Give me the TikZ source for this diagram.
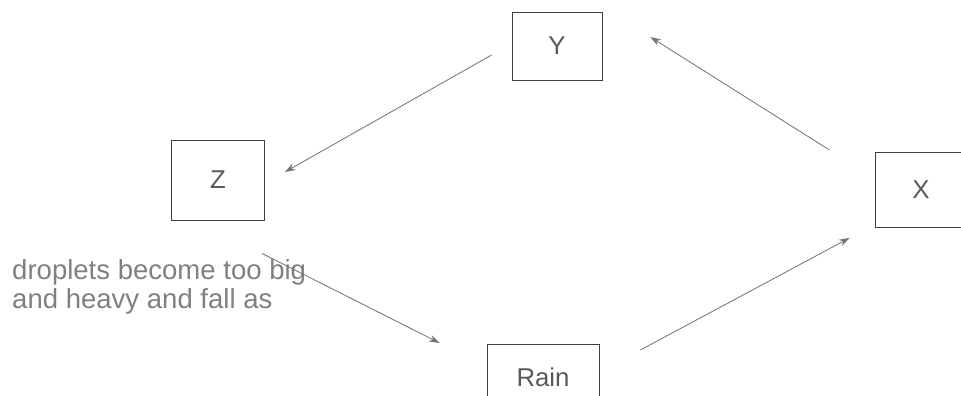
\documentclass[tikz,border=0pt]{standalone}
\usepackage{fontspec}
\setmainfont{Liberation Sans}
\usetikzlibrary{calc,arrows.meta}

\tikzset{
  cyclebox/.style={draw=black!75, line width=0.7pt, text=black!65,
    inner sep=0pt, font=\fontsize{22}{26}\selectfont},
  cyclearrow/.style={draw=black!55, line width=0.7pt,
    -{Stealth[length=9pt,width=6pt]}},
}

\begin{document}
\begin{tikzpicture}[x=0.03cm, y=-0.03cm]
  \useasboundingbox (0,0) rectangle (961,396);

  %--- Boxes of the cycle ---
  \node[cyclebox, minimum width=90*0.03cm, minimum height=68*0.03cm] (Y) at (557,46) {Y};
  \node[cyclebox, minimum width=93*0.03cm, minimum height=80*0.03cm] (Z) at (218,180) {Z};
  \node[cyclebox, minimum width=92*0.03cm, minimum height=75*0.03cm] (X) at (921,190) {X};
  \node[cyclebox, minimum width=112*0.03cm, minimum height=66*0.03cm] (rain) at (543,377) {Rain};

  %--- Label beside the Z to Rain arrow ---
  \node[anchor=north west, align=left, inner sep=0pt, text=black!50,
    font=\fontsize{23.5}{25}\selectfont] (drop) at (12,259)
    {droplets become too big\\and heavy and fall as};

  %--- Arrows (they stop short of the boxes) ---
  \draw[cyclearrow] ([shift={(-20,9)}]Y.west) -- ([shift={(20,-8)}]Z.east);
  \draw[cyclearrow] ([shift={(44,33)}]Z.south) -- ([shift={(-47,-34)}]rain.west);
  \draw[cyclearrow] ([shift={(41,-27)}]rain.east) -- ([shift={(-25,10)}]X.south west);
  \draw[cyclearrow] ([shift={(-45,-2)}]X.north west) -- ([shift={(48,-9)}]Y.east);

\end{tikzpicture}
\end{document}
